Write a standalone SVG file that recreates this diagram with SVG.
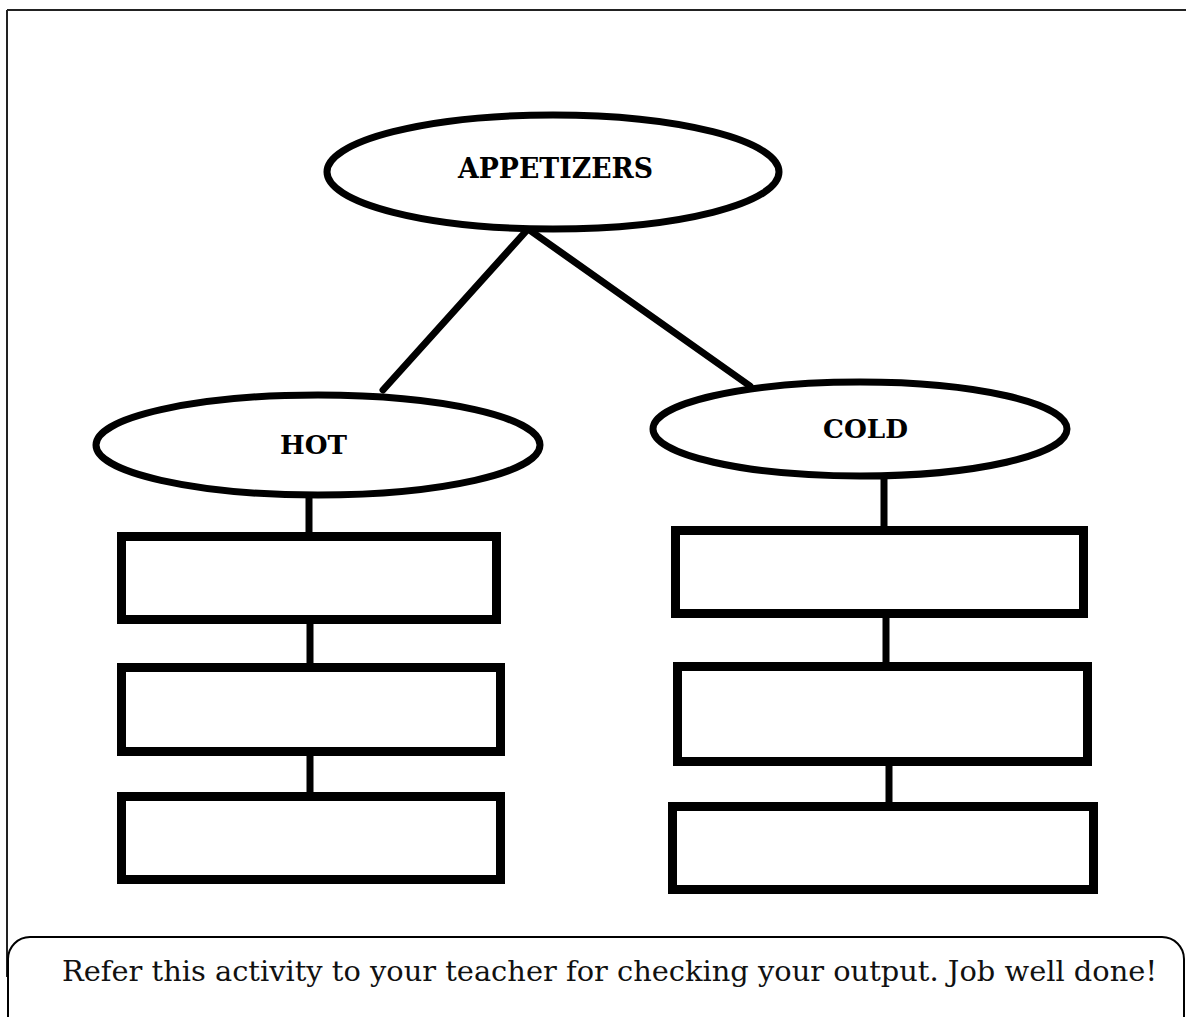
<svg xmlns="http://www.w3.org/2000/svg" width="1186" height="1017" viewBox="0 0 1186 1017">
<style>
.oval{fill:#fff;stroke:#000;stroke-width:7}
.box{fill:#fff;stroke:#000;stroke-width:9}
.conn{stroke:#000;stroke-width:7;stroke-linecap:round;fill:none}
.lbl{font-family:"DejaVu Serif","Liberation Serif",serif;font-weight:bold;fill:#000;text-anchor:middle}
.note{font-family:"DejaVu Serif","Liberation Serif",serif;fill:#111;font-size:27px}
</style>
<rect width="1186" height="1017" fill="#fff"/>
<g id="frame" fill="none" stroke="#222" stroke-width="2">
<path d="M7 10 H1186 M7 10 V977"/>
</g>
<g id="connectors">
<line class="conn" x1="528" y1="229" x2="383" y2="390"/>
<line class="conn" x1="528" y1="229" x2="750" y2="386"/>
<line class="conn" x1="309" y1="498" x2="309" y2="540"/>
<line class="conn" x1="310" y1="624" x2="310" y2="673"/>
<line class="conn" x1="310" y1="756" x2="310" y2="804"/>
<line class="conn" x1="884" y1="478" x2="884" y2="528"/>
<line class="conn" x1="886" y1="618" x2="886" y2="664"/>
<line class="conn" x1="889" y1="766" x2="889" y2="810"/>
</g>
<g id="appetizers">
<ellipse class="oval" cx="553" cy="172" rx="226" ry="57"/>
<text class="lbl" x="555.5" y="178" font-size="27" textLength="195" lengthAdjust="spacingAndGlyphs">APPETIZERS</text>
</g>
<g id="hot">
<ellipse class="oval" cx="318" cy="445" rx="222" ry="50"/>
<text class="lbl" x="313.5" y="454" font-size="26" textLength="67" lengthAdjust="spacingAndGlyphs">HOT</text>
</g>
<g id="cold">
<ellipse class="oval" cx="860" cy="429" rx="207" ry="47"/>
<text class="lbl" x="865.5" y="438" font-size="26" textLength="85" lengthAdjust="spacingAndGlyphs">COLD</text>
</g>
<g id="hot-1"><rect class="box" x="121.5" y="536.5" width="375" height="83"/></g>
<g id="hot-2"><rect class="box" x="121.5" y="667.5" width="379" height="84"/></g>
<g id="hot-3"><rect class="box" x="121.5" y="796.5" width="379" height="83"/></g>
<g id="cold-1"><rect class="box" x="675.5" y="530.5" width="408" height="83"/></g>
<g id="cold-2"><rect class="box" x="677.5" y="666.5" width="410" height="95"/></g>
<g id="cold-3"><rect class="box" x="672.5" y="806.5" width="421" height="83"/></g>
<g id="note">
<rect x="8" y="937" width="1176" height="120" rx="22" ry="22" fill="none" stroke="#000" stroke-width="2"/>
<text class="note" x="62" y="981" textLength="1095" lengthAdjust="spacingAndGlyphs">Refer this activity to your teacher for checking your output. Job well done!</text>
</g>
</svg>
